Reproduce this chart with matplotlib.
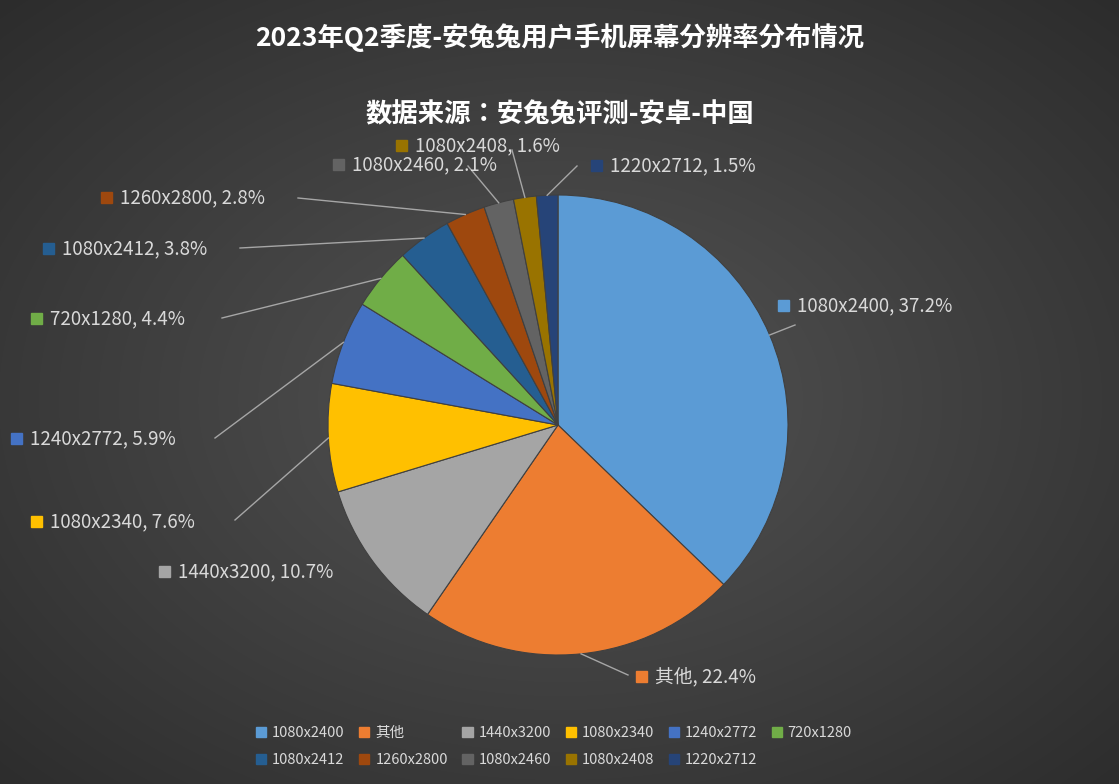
import numpy as np
import matplotlib
matplotlib.use("Agg")
import matplotlib.pyplot as plt
from matplotlib import font_manager as fm

cjk = None
for f in fm.fontManager.ttflist:
    if 'CJK' in f.name and ('SC' in f.name or cjk is None):
        cjk = f.name
plt.rcParams['font.family'] = [cjk or 'Noto Sans CJK SC', 'DejaVu Sans']

categories = ["1080x2400", "其他", "1440x3200", "1080x2340", "1240x2772", "720x1280",
              "1080x2412", "1260x2800", "1080x2460", "1080x2408", "1220x2712"]
values = [37.2, 22.4, 10.7, 7.6, 5.9, 4.4, 3.8, 2.8, 2.1, 1.6, 1.5]
colors = ["#5B9BD5", "#ED7D31", "#A5A5A5", "#FFC000", "#4472C4", "#70AD47",
          "#255E91", "#9E480E", "#636363", "#997300", "#264478"]
label_pos = [(797, 306), (655, 677), (178, 572), (50, 522), (30, 439), (50, 319),
             (62, 249), (120, 198), (352, 165), (415, 146), (610, 166)]
leader_end = [(795, 325), (628, 675), (0, 0), (235, 520), (215, 438), (222, 318),
              (240, 248), (298, 198), (468, 166), (512, 150), (577, 166)]

W, H = 1119, 784
fig = plt.figure(figsize=(W/100, H/100), dpi=100)
ax = fig.add_axes([0, 0, 1, 1])

yy, xx = np.mgrid[0:H, 0:W]
d = np.sqrt(((xx-560)/W)**2 + ((yy-400)/H)**2)
g = np.clip(0.33 - 0.22*d, 0.12, 0.35)
ax.imshow(np.dstack([g, g, g]), extent=(0, W, H, 0), zorder=0)

cx, cy, r = 558, 425, 230
# y axis is inverted, so visual clockwise-from-top == data counterclockwise from -90
wedges, _ = ax.pie(values, colors=colors, startangle=-90, counterclock=True,
                   center=(cx, cy), radius=r, frame=True,
                   wedgeprops=dict(edgecolor='#404040', linewidth=0.8))
ax.set_xlim(0, W); ax.set_ylim(H, 0); ax.axis('off'); ax.set_aspect('equal')

start = 90.0
for i, (v, c, cat) in enumerate(zip(values, colors, categories)):
    mid = start - v*3.6/2
    start -= v*3.6
    a = np.deg2rad(mid)
    px, py = cx + r*np.cos(a), cy - r*np.sin(a)
    lx, ly = label_pos[i]
    ex, ey = leader_end[i]
    if i != 2:
        ax.plot([px, ex], [py, ey], color='#a6a6a6', lw=1, zorder=3)
    ax.add_patch(plt.Rectangle((lx-19, ly-6), 11, 11, color=c, zorder=4))
    ax.text(lx, ly, f"{cat}, {v}%", color='#d9d9d9', fontsize=13.5,
            va='center', ha='left', zorder=4)

ax.text(W/2, 38, "2023年Q2季度-安兔兔用户手机屏幕分辨率分布情况", color='white',
        fontsize=19, fontweight='bold', ha='center', va='center')
ax.text(W/2, 115, "数据来源：安兔兔评测-安卓-中国", color='white',
        fontsize=19, fontweight='bold', ha='center', va='center')

from matplotlib.patches import Patch
order = [0, 6, 1, 7, 2, 8, 3, 9, 4, 10, 5]
handles = [Patch(color=colors[k]) for k in order]
labels = [categories[k] for k in order]
leg = fig.legend(handles, labels, ncol=6, loc='lower center',
                 bbox_to_anchor=(0.495, 0.005), frameon=False, fontsize=10.5,
                 handlelength=0.7, handleheight=0.7, handletextpad=0.4,
                 columnspacing=1.0, labelspacing=0.9)
for t in leg.get_texts():
    t.set_color('#d9d9d9')

fig.savefig("out.png", dpi=100)
